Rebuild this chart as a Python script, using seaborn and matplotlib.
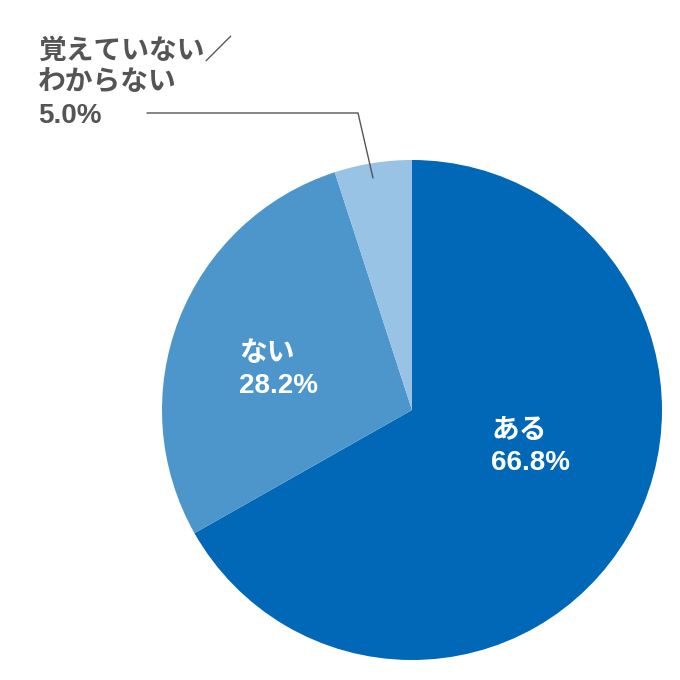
import matplotlib.pyplot as plt
import seaborn as sns

labels = ['ある', 'ない', '覚えていない／\nわからない']
values = [66.8, 28.2, 5.0]
colors = ['#0068b6', '#4d96cb', '#98c3e4']

sns.set_theme(style="white")
plt.rcParams['font.family'] = ['Liberation Sans', 'Noto Sans CJK JP', 'DejaVu Sans']

fig = plt.figure(figsize=(6.8, 6.8), dpi=100)
ax = fig.add_axes([0, 0, 1, 1])

# pixel-like coordinates, y pointing up (H - y_from_top)
H = 680
cx, cy, r = 412, H - 410, 250
ax.pie(values, colors=colors, startangle=90, counterclock=False,
       center=(cx, cy), radius=r, frame=True,
       wedgeprops=dict(linewidth=0))
ax.set_xlim(0, 680)
ax.set_ylim(0, 680)
ax.set_aspect('equal')
ax.axis('off')

# labels
ax.text(491, H - 447, f'{labels[0]}\n{values[0]:.1f}%', color='white', fontsize=20,
        fontweight='bold', va='center', ha='left', linespacing=1.3)
ax.text(239, H - 370, f'{labels[1]}\n{values[1]:.1f}%', color='white', fontsize=20,
        fontweight='bold', va='center', ha='left', linespacing=1.3)
ax.text(38, H - 84, f'{labels[2]}\n{values[2]:.1f}%', color='#555555', fontsize=20,
        fontweight='bold', va='center', ha='left', linespacing=1.3)

# leader line
ax.plot([147, 358, 373], [H - 113, H - 113, H - 178], color='#555555', linewidth=1)

fig.savefig('out.png', dpi=100)
